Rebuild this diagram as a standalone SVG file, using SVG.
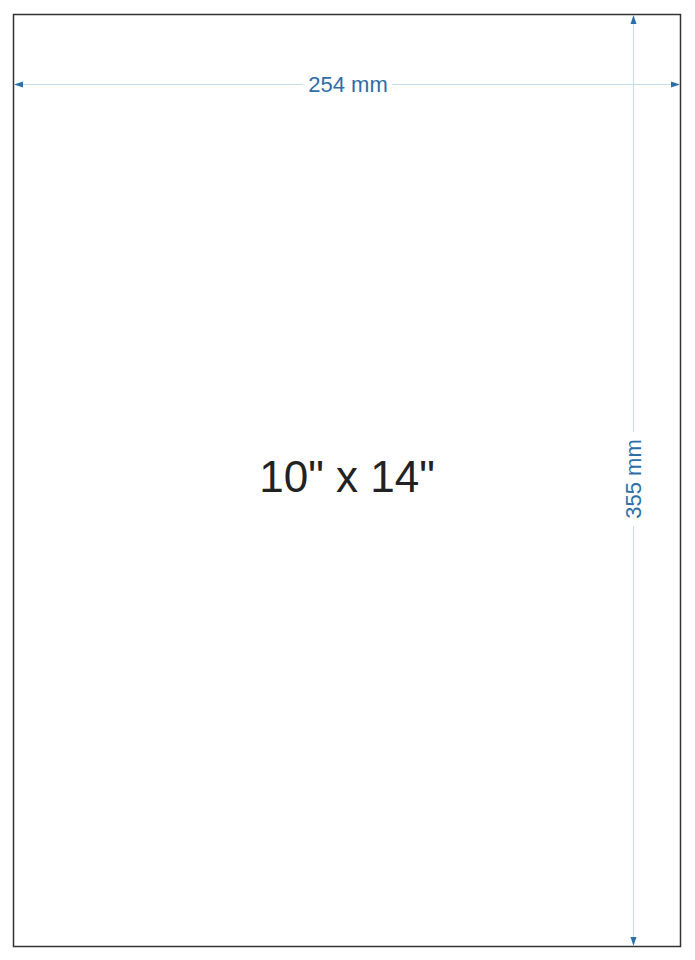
<svg xmlns="http://www.w3.org/2000/svg" width="695" height="960" viewBox="0 0 695 960">
<style>
.dim{stroke:#c6dbee;stroke-width:1;fill:none}
.ah{fill:#2e6ea8}
.dt{font-family:"Liberation Sans",Arial,sans-serif;font-size:22px;fill:#2e6ea8;text-anchor:middle}
.mt{font-family:"Liberation Sans",Arial,sans-serif;font-size:44px;fill:#222;text-anchor:middle}
</style>
<rect width="695" height="960" fill="#fff"/>
<g id="sheet">
<rect x="13.5" y="14.5" width="667" height="932" fill="#fff" stroke="#333" stroke-width="1.5"/>
<text class="mt" x="347" y="492">10" x 14"</text>
</g>
<g id="connectors">
<path class="dim" d="M23 84.5H303M392 84.5H671"/>
<path class="dim" d="M633.5 24V432M633.5 526V937"/>
<path class="ah" d="M14 84.5L23 81.5V87.5Z"/>
<path class="ah" d="M680 84.5L671 81.5V87.5Z"/>
<path class="ah" d="M633.5 15L630.5 24H636.5Z"/>
<path class="ah" d="M633.5 946L630.5 937H636.5Z"/>
</g>
<g id="labels">
<text class="dt" x="348" y="92">254 mm</text>
<text class="dt" transform="translate(641 479) rotate(-90)" x="0" y="0">355 mm</text>
</g>
</svg>
